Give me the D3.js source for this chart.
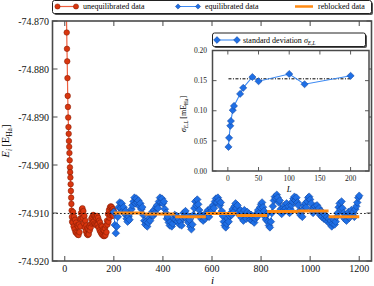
<!DOCTYPE html>
<html><head><meta charset="utf-8">
<script src="https://cdn.jsdelivr.net/npm/d3@7"></script>
<style>
html,body{margin:0;padding:0;background:#fff;}
svg{display:block;font-family:"Liberation Serif","DejaVu Serif",serif;}
</style></head>
<body>
<svg id="chart" width="374" height="286"></svg>
<script>
// ---------- data ----------
const xTicks = [0, 200, 400, 600, 800, 1000, 1200];
const yTicks = [-74.920, -74.910, -74.900, -74.890, -74.880, -74.870];
const referenceEnergy = -74.9101;

// unequilibrated data: i = 0..30 (step 1)
const unequilHeadE = [-74.8200, -74.8320, -74.8420, -74.8500, -74.8560, -74.8610, -74.8650, -74.8690,
  -74.8724, -74.8758, -74.8784, -74.8819, -74.8856, -74.8879, -74.8901, -74.8921, -74.8935, -74.8950,
  -74.8962, -74.8975, -74.8990, -74.9005, -74.9015, -74.9026, -74.9040, -74.9054, -74.9068, -74.9081,
  -74.9095, -74.9108, -74.9118];
// unequilibrated data: i = 32..200 (step 2)
const unequilTailE = [
  -74.9120, -74.9098, -74.9128, -74.9108, -74.9134, -74.9114, -74.9140, -74.9120, -74.9142, -74.9126,
  -74.9145, -74.9128, -74.9146, -74.9124, -74.9140, -74.9112, -74.9128, -74.9100, -74.9112, -74.9092,
  -74.9090, -74.9110, -74.9096, -74.9122, -74.9106, -74.9130, -74.9116, -74.9138, -74.9126, -74.9144,
  -74.9132, -74.9146, -74.9134, -74.9144, -74.9128, -74.9136, -74.9124, -74.9130, -74.9112, -74.9122,
  -74.9108, -74.9120, -74.9104, -74.9118, -74.9106, -74.9122, -74.9108, -74.9124, -74.9110, -74.9126,
  -74.9106, -74.9124, -74.9110, -74.9130, -74.9116, -74.9136, -74.9120, -74.9140, -74.9126, -74.9144,
  -74.9128, -74.9146, -74.9134, -74.9148, -74.9136, -74.9148, -74.9132, -74.9146, -74.9126, -74.9140,
  -74.9116, -74.9124, -74.9102, -74.9118, -74.9094, -74.9110, -74.9088, -74.9104, -74.9086, -74.9100,
  -74.9088, -74.9104, -74.9092, -74.9106, -74.9096];
// equilibrated data: i = 200..1200 (step 4)
const equilE = [
  -74.9098, -74.9125, -74.9142, -74.9128, -74.9108, -74.9088, -74.9078, -74.9090, -74.9080, -74.9096,
  -74.9088, -74.9102, -74.9096, -74.9112, -74.9118, -74.9108, -74.9114, -74.9100, -74.9092, -74.9084,
  -74.9076, -74.9068, -74.9080, -74.9070, -74.9078, -74.9074, -74.9086, -74.9080, -74.9092, -74.9088,
  -74.9104, -74.9116, -74.9124, -74.9118, -74.9128, -74.9120, -74.9110, -74.9116, -74.9104, -74.9098,
  -74.9106, -74.9094, -74.9100, -74.9088, -74.9084, -74.9090, -74.9076, -74.9068, -74.9078, -74.9070,
  -74.9080, -74.9076, -74.9092, -74.9100, -74.9112, -74.9108, -74.9120, -74.9126, -74.9118, -74.9128,
  -74.9122, -74.9112, -74.9104, -74.9114, -74.9106, -74.9118, -74.9112, -74.9124, -74.9118, -74.9126,
  -74.9110, -74.9100, -74.9108, -74.9096, -74.9112, -74.9106, -74.9120, -74.9114, -74.9128, -74.9134,
  -74.9124, -74.9104, -74.9090, -74.9076, -74.9084, -74.9072, -74.9082, -74.9094, -74.9104, -74.9112,
  -74.9106, -74.9116, -74.9108, -74.9112, -74.9100, -74.9106, -74.9094, -74.9108, -74.9098, -74.9090,
  -74.9096, -74.9084, -74.9090, -74.9076, -74.9070, -74.9078, -74.9068, -74.9074, -74.9084, -74.9078,
  -74.9096, -74.9106, -74.9118, -74.9126, -74.9130, -74.9122, -74.9112, -74.9118, -74.9106, -74.9100,
  -74.9104, -74.9092, -74.9098, -74.9086, -74.9080, -74.9090, -74.9084, -74.9098, -74.9104, -74.9094,
  -74.9110, -74.9100, -74.9116, -74.9094, -74.9106, -74.9112, -74.9098, -74.9106, -74.9102, -74.9114,
  -74.9104, -74.9116, -74.9110, -74.9120, -74.9112, -74.9102, -74.9108, -74.9094, -74.9100, -74.9088,
  -74.9082, -74.9078, -74.9088, -74.9096, -74.9108, -74.9114, -74.9102, -74.9118, -74.9126, -74.9130,
  -74.9118, -74.9100, -74.9086, -74.9074, -74.9066, -74.9070, -74.9062, -74.9068, -74.9078, -74.9074,
  -74.9092, -74.9102, -74.9096, -74.9088, -74.9084, -74.9090, -74.9080, -74.9094, -74.9086, -74.9100,
  -74.9092, -74.9084, -74.9076, -74.9070, -74.9066, -74.9074, -74.9068, -74.9078, -74.9084, -74.9096,
  -74.9104, -74.9096, -74.9108, -74.9092, -74.9084, -74.9080, -74.9088, -74.9076, -74.9068, -74.9066,
  -74.9072, -74.9080, -74.9092, -74.9100, -74.9090, -74.9086, -74.9094, -74.9084, -74.9096, -74.9090,
  -74.9104, -74.9096, -74.9108, -74.9100, -74.9112, -74.9104, -74.9114, -74.9108, -74.9118, -74.9112,
  -74.9122, -74.9116, -74.9128, -74.9122, -74.9114, -74.9124, -74.9118, -74.9108, -74.9100, -74.9088,
  -74.9080, -74.9092, -74.9076, -74.9090, -74.9100, -74.9112, -74.9104, -74.9116, -74.9106, -74.9098,
  -74.9110, -74.9102, -74.9094, -74.9104, -74.9098, -74.9108, -74.9092, -74.9086, -74.9078, -74.9068,
  -74.9064];
// reblocked data (block length 125)
const blockStart = [200, 325, 450, 575, 700, 825, 950, 1075];
const blockEnd   = [325, 450, 575, 700, 825, 950, 1075, 1200];
const blockE     = [-74.9100, -74.9102, -74.9108, -74.9101, -74.9105, -74.9097, -74.9096, -74.9108];

// inset: standard deviation vs block length
const blockL = [1, 2, 4, 5, 8, 10, 20, 25, 40, 50, 100, 125, 200];
const sigmaL = [0.040, 0.055, 0.075, 0.083, 0.101, 0.108, 0.128, 0.138, 0.156, 0.149, 0.161, 0.144, 0.158];
const sigmaRef = 0.153;
const insetXTicks = [0, 50, 100, 150, 200];
const insetYTicks = [0.00, 0.05, 0.10, 0.15, 0.20];

// ---------- build point lists ----------
const redPts = unequilHeadE.map((e, k) => ({i: k, e}))
  .concat(unequilTailE.map((e, k) => ({i: 32 + 2 * k, e})));
const bluePts = equilE.map((e, k) => ({i: 200 + 4 * k, e}));

// ---------- colours ----------
const RED_FILL = "#d9360f", RED_EDGE = "#7d1b05", RED_LINE = "#ee5e3e";
const BLUE_FILL = "#1f6fe5", BLUE_EDGE = "#0c3f96", BLUE_LINE = "#3d8af2";
const ORANGE = "#ff8a12";
const AXIS = "#4a4a4a";

const svg = d3.select("#chart");
const L = 52.5, R = 371.5, T = 21, B = 261;
const x = d3.scaleLinear([-50, 1250], [L, R]);
const y = d3.scaleLinear([-74.920, -74.870], [B, T]);

svg.append("defs").append("clipPath").attr("id", "clipMain")
  .append("rect").attr("x", L).attr("y", T).attr("width", R - L).attr("height", B - T);

const diamond = r => `M0,${-r}L${r},0L0,${r}L${-r},0Z`;

const plot = svg.append("g").attr("clip-path", "url(#clipMain)");

// unequilibrated
plot.append("path").datum(redPts)
  .attr("d", d3.line().x(d => x(d.i)).y(d => y(d.e)))
  .attr("fill", "none").attr("stroke", RED_LINE).attr("stroke-width", 1.2);
plot.append("g").selectAll("circle").data(redPts).join("circle")
  .attr("cx", d => x(d.i)).attr("cy", d => y(d.e)).attr("r", 2.8)
  .attr("fill", RED_FILL).attr("stroke", RED_EDGE).attr("stroke-width", 0.5);

// equilibrated
plot.append("path").datum(bluePts)
  .attr("d", d3.line().x(d => x(d.i)).y(d => y(d.e)))
  .attr("fill", "none").attr("stroke", BLUE_LINE).attr("stroke-width", 1);
plot.append("g").selectAll("path").data(bluePts).join("path")
  .attr("transform", d => `translate(${x(d.i)},${y(d.e)})`)
  .attr("d", diamond(3.8))
  .attr("fill", BLUE_FILL).attr("stroke", BLUE_EDGE).attr("stroke-width", 0.5);

// reblocked
plot.append("g").selectAll("line").data(blockE).join("line")
  .attr("x1", (d, k) => x(blockStart[k])).attr("x2", (d, k) => x(blockEnd[k]))
  .attr("y1", d => y(d)).attr("y2", d => y(d))
  .attr("stroke", ORANGE).attr("stroke-width", 3);

// reference line
plot.append("line")
  .attr("x1", L).attr("x2", R).attr("y1", y(referenceEnergy)).attr("y2", y(referenceEnergy))
  .attr("stroke", "#000").attr("stroke-width", 0.9).attr("stroke-dasharray", "1.6,2.2");

// ---------- main axes ----------
const ax = svg.append("g");
ax.append("rect").attr("x", L).attr("y", T).attr("width", R - L).attr("height", B - T)
  .attr("fill", "none").attr("stroke", AXIS).attr("stroke-width", 1.6);
xTicks.forEach(t => {
  ax.append("line").attr("x1", x(t)).attr("x2", x(t)).attr("y1", B).attr("y2", B - 5)
    .attr("stroke", AXIS).attr("stroke-width", 1);
  ax.append("line").attr("x1", x(t)).attr("x2", x(t)).attr("y1", T).attr("y2", T + 5)
    .attr("stroke", AXIS).attr("stroke-width", 1);
  ax.append("text").attr("x", x(t)).attr("y", 272).attr("text-anchor", "middle")
    .attr("font-size", 10).attr("fill", "#111").text(t);
});
yTicks.forEach(t => {
  ax.append("line").attr("x1", L).attr("x2", L + 5).attr("y1", y(t)).attr("y2", y(t))
    .attr("stroke", AXIS).attr("stroke-width", 1);
  ax.append("line").attr("x1", R).attr("x2", R - 5).attr("y1", y(t)).attr("y2", y(t))
    .attr("stroke", AXIS).attr("stroke-width", 1);
  ax.append("text").attr("x", 49).attr("y", y(t) + 3.5).attr("text-anchor", "end")
    .attr("font-size", 10).attr("fill", "#111").text(d3.format(".3f")(t).replace("−", "-"));
});
ax.append("text").attr("x", (L + R) / 2 + 0.5).attr("y", 284).attr("text-anchor", "middle")
  .attr("font-size", 11).attr("font-style", "italic").text("i");
const yl = ax.append("text").attr("transform", "translate(9,141) rotate(-90)")
  .attr("text-anchor", "middle").attr("font-size", 10.5);
yl.append("tspan").attr("font-style", "italic").text("E");
yl.append("tspan").attr("font-style", "italic").attr("font-size", 7.5).attr("dy", 2.5).text("i");
yl.append("tspan").attr("dy", -2.5).text("\u2009[E");
yl.append("tspan").attr("font-size", 7.5).attr("dy", 2.5).text("Ha");
yl.append("tspan").attr("dy", -2.5).text("]");

// ---------- main legend ----------
const lg = svg.append("g");
lg.append("rect").attr("x", 54).attr("y", 2).attr("width", 319).attr("height", 13)
  .attr("fill", "#555").attr("rx", 2);
lg.append("rect").attr("x", 52.5).attr("y", 0.5).attr("width", 319).attr("height", 13)
  .attr("fill", "#fff").attr("stroke", "#222").attr("stroke-width", 1).attr("rx", 2);
const LY = 6.5;
lg.append("line").attr("x1", 57.5).attr("x2", 76).attr("y1", LY).attr("y2", LY)
  .attr("stroke", RED_LINE).attr("stroke-width", 1.2);
[57.5, 76].forEach(cx => lg.append("circle").attr("cx", cx).attr("cy", LY).attr("r", 2.6)
  .attr("fill", RED_FILL).attr("stroke", RED_EDGE).attr("stroke-width", 0.5));
lg.append("text").attr("x", 83).attr("y", 9.3).attr("font-size", 8).text("unequilibrated data");
lg.append("line").attr("x1", 178).attr("x2", 198).attr("y1", LY).attr("y2", LY)
  .attr("stroke", BLUE_LINE).attr("stroke-width", 1);
[178, 198].forEach(cx => lg.append("path").attr("transform", `translate(${cx},${LY})`)
  .attr("d", diamond(2.6)).attr("fill", BLUE_FILL).attr("stroke", BLUE_EDGE).attr("stroke-width", 0.5));
lg.append("text").attr("x", 205).attr("y", 9.3).attr("font-size", 8).text("equilibrated data");
lg.append("line").attr("x1", 295).attr("x2", 313).attr("y1", LY).attr("y2", LY)
  .attr("stroke", ORANGE).attr("stroke-width", 2.5);
lg.append("text").attr("x", 318).attr("y", 9.3).attr("font-size", 8).text("reblocked data");

// ---------- inset ----------
const iL = 212.5, iR = 369, iT = 50.5, iB = 171;
const xi = d3.scaleLinear([-25, 230], [iL, iR]);
const yi = d3.scaleLinear([0, 0.20], [iB, iT]);
const ins = svg.append("g");
ins.append("rect").attr("x", iL).attr("y", iT).attr("width", iR - iL).attr("height", iB - iT)
  .attr("fill", "#fff");
ins.append("line").attr("x1", xi(blockL[0])).attr("x2", xi(blockL[blockL.length - 1]))
  .attr("y1", yi(sigmaRef)).attr("y2", yi(sigmaRef))
  .attr("stroke", "#000").attr("stroke-width", 1).attr("stroke-dasharray", "3,1.5,1,1.5");
ins.append("path").datum(blockL.map((l, k) => [l, sigmaL[k]]))
  .attr("d", d3.line().x(d => xi(d[0])).y(d => yi(d[1])))
  .attr("fill", "none").attr("stroke", BLUE_LINE).attr("stroke-width", 1.1);
ins.append("g").selectAll("path").data(blockL.map((l, k) => [l, sigmaL[k]])).join("path")
  .attr("transform", d => `translate(${xi(d[0])},${yi(d[1])})`)
  .attr("d", diamond(3.6)).attr("fill", BLUE_FILL).attr("stroke", BLUE_EDGE).attr("stroke-width", 0.5);
ins.append("rect").attr("x", iL).attr("y", iT).attr("width", iR - iL).attr("height", iB - iT)
  .attr("fill", "none").attr("stroke", AXIS).attr("stroke-width", 1.5);
insetXTicks.forEach(t => {
  ins.append("line").attr("x1", xi(t)).attr("x2", xi(t)).attr("y1", iB).attr("y2", iB - 4)
    .attr("stroke", AXIS).attr("stroke-width", 0.9);
  ins.append("line").attr("x1", xi(t)).attr("x2", xi(t)).attr("y1", iT).attr("y2", iT + 4)
    .attr("stroke", AXIS).attr("stroke-width", 0.9);
  ins.append("text").attr("x", xi(t)).attr("y", 180.5).attr("text-anchor", "middle")
    .attr("font-size", 7.5).attr("fill", "#222").text(t);
});
insetYTicks.forEach(t => {
  ins.append("line").attr("x1", iL).attr("x2", iL + 4).attr("y1", yi(t)).attr("y2", yi(t))
    .attr("stroke", AXIS).attr("stroke-width", 0.9);
  ins.append("line").attr("x1", iR).attr("x2", iR - 4).attr("y1", yi(t)).attr("y2", yi(t))
    .attr("stroke", AXIS).attr("stroke-width", 0.9);
  ins.append("text").attr("x", 207).attr("y", yi(t) + 2.7).attr("text-anchor", "end")
    .attr("font-size", 7.5).attr("fill", "#222").text(d3.format(".2f")(t));
});
ins.append("text").attr("x", xi(100)).attr("y", 192).attr("text-anchor", "middle")
  .attr("font-size", 8.5).attr("font-style", "italic").text("L");
const il = ins.append("text").attr("transform", "translate(186,114) rotate(-90)")
  .attr("text-anchor", "middle").attr("font-size", 8);
il.append("tspan").attr("font-style", "italic").text("σ");
il.append("tspan").attr("font-style", "italic").attr("font-size", 5.5).attr("dy", 2).text("E,L");
il.append("tspan").attr("dy", -2).text("\u2009[mE");
il.append("tspan").attr("font-size", 5.5).attr("dy", 2).text("Ha");
il.append("tspan").attr("dy", -2).text("]");

// inset legend
const ilg = svg.append("g");
ilg.append("rect").attr("x", 214).attr("y", 34.5).attr("width", 153).attr("height", 13.5)
  .attr("fill", "#555").attr("rx", 2);
ilg.append("rect").attr("x", 212.5).attr("y", 33).attr("width", 153).attr("height", 13.5)
  .attr("fill", "#fff").attr("stroke", "#222").attr("stroke-width", 1).attr("rx", 2);
ilg.append("line").attr("x1", 217).attr("x2", 237).attr("y1", 40).attr("y2", 40)
  .attr("stroke", BLUE_LINE).attr("stroke-width", 1.1);
[217, 237].forEach(cx => ilg.append("path").attr("transform", `translate(${cx},40)`)
  .attr("d", diamond(3.4)).attr("fill", BLUE_FILL).attr("stroke", BLUE_EDGE).attr("stroke-width", 0.5));
const it = ilg.append("text").attr("x", 243).attr("y", 42.8).attr("font-size", 8);
it.append("tspan").text("standard deviation ");
it.append("tspan").attr("font-style", "italic").text("σ");
it.append("tspan").attr("font-style", "italic").attr("font-size", 5.5).attr("dy", 1.8).text("E,L");
</script>
</body></html>
